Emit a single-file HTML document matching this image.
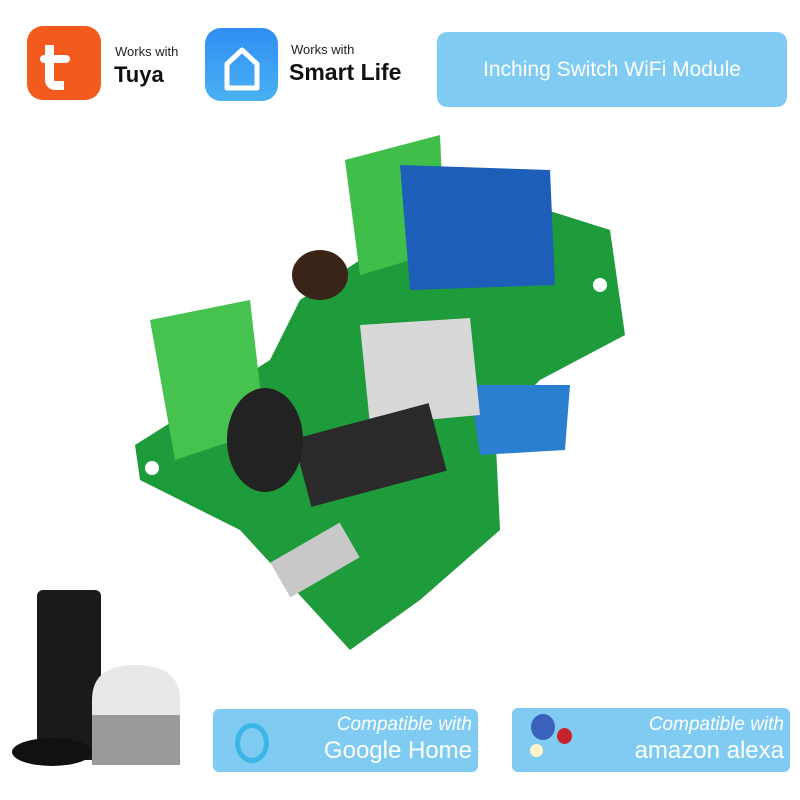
<!DOCTYPE html>
<html><head><style>
body{margin:0;width:800px;height:800px;background:#fff;position:relative;overflow:hidden;font-family:"Liberation Sans",sans-serif}
.a{position:absolute}
</style></head><body>
<!-- Tuya -->
<div class="a" style="left:27px;top:26px;width:74px;height:74px;border-radius:16px;background:#f25a1e"></div>
<div class="a" style="left:45px;top:45px;width:10px;height:36px;border-left:9px solid #fff;border-bottom:9px solid #fff;border-radius:0 0 0 10px"></div>
<div class="a" style="left:40px;top:55px;width:30px;height:8px;background:#fff;border-radius:4px"></div>
<div class="a" style="left:115px;top:44px;font-size:13px;color:#222">Works with</div>
<div class="a" style="left:114px;top:62px;font-size:22px;font-weight:bold;color:#111">Tuya</div>
<!-- Smart Life -->
<div class="a" style="left:205px;top:28px;width:73px;height:73px;border-radius:16px;background:linear-gradient(#2f8ef4,#49b1f2)"></div>
<svg class="a" style="left:205px;top:28px" width="73" height="73"><path d="M22 60V36L37 22L52 36V60Z" fill="none" stroke="#fff" stroke-width="5" stroke-linejoin="round"/></svg>
<div class="a" style="left:291px;top:42px;font-size:13px;color:#222">Works with</div>
<div class="a" style="left:289px;top:59px;font-size:23px;font-weight:bold;color:#111">Smart Life</div>
<!-- title -->
<div class="a" style="left:437px;top:32px;width:350px;height:75px;border-radius:10px;background:#80cbf1;color:#fff;font-size:21px;line-height:75px;text-align:center">Inching Switch WiFi Module</div>
<!-- board -->
<svg class="a" style="left:0;top:0" width="800" height="800">
<polygon points="135,445 270,360 300,300 360,260 420,170 610,230 625,335 540,380 495,425 500,530 420,600 350,650 240,530 140,480" fill="#1e9b3a"/>
<polygon points="345,160 440,135 445,250 360,275" fill="#3fbf4a"/>
<polygon points="150,320 250,300 265,430 175,460" fill="#46c24f"/>
<polygon points="400,165 550,170 555,285 410,290" fill="#1d5fb8"/>
<polygon points="470,385 570,385 565,450 480,455" fill="#2a7fd0"/>
<polygon points="360,325 470,318 480,415 370,425" fill="#d8d8d8"/>
<rect x="300" y="420" width="140" height="70" fill="#2a2a2a" transform="rotate(-15 370 455)"/>
<ellipse cx="265" cy="440" rx="38" ry="52" fill="#222"/>
<ellipse cx="320" cy="275" rx="28" ry="25" fill="#3a2418"/>
<rect x="275" y="540" width="80" height="40" fill="#c8c8c8" transform="rotate(-30 315 560)"/>
<circle cx="152" cy="468" r="7" fill="#fff"/><circle cx="600" cy="285" r="7" fill="#fff"/><circle cx="570" cy="595" r="7" fill="#fff"/>
<!-- speakers -->
<rect x="37" y="590" width="64" height="170" rx="6" fill="#1a1a1a"/>
<path d="M92 700 Q92 665 135 665 Q180 665 180 700 L180 765 L92 765Z" fill="#e8e8e8"/>
<rect x="92" y="715" width="88" height="50" fill="#9a9a9a"/>
<ellipse cx="52" cy="752" rx="40" ry="14" fill="#111"/>
</svg>
<!-- bottom badges -->
<div class="a" style="left:213px;top:709px;width:265px;height:63px;border-radius:6px;background:#80cbf1"></div>
<div class="a" style="left:235px;top:723px;width:24px;height:30px;border:5px solid #3bb6e6;border-radius:50%"></div>
<div class="a" style="left:300px;top:714px;width:172px;text-align:right;color:#fff;font-size:19px;font-style:italic">Compatible with</div>
<div class="a" style="left:290px;top:737px;width:182px;text-align:right;color:#fff;font-size:24px">Google Home</div>
<div class="a" style="left:512px;top:708px;width:278px;height:64px;border-radius:6px;background:#80cbf1"></div>
<div class="a" style="left:531px;top:714px;width:24px;height:26px;border-radius:50%;background:#3a62bd"></div>
<div class="a" style="left:557px;top:728px;width:15px;height:16px;border-radius:50%;background:#c8222c"></div>
<div class="a" style="left:530px;top:744px;width:13px;height:13px;border-radius:50%;background:#fff4c8"></div>
<div class="a" style="left:590px;top:714px;width:194px;text-align:right;color:#fff;font-size:19px;font-style:italic">Compatible with</div>
<div class="a" style="left:580px;top:737px;width:204px;text-align:right;color:#fff;font-size:24px">amazon alexa</div>
</body></html>
